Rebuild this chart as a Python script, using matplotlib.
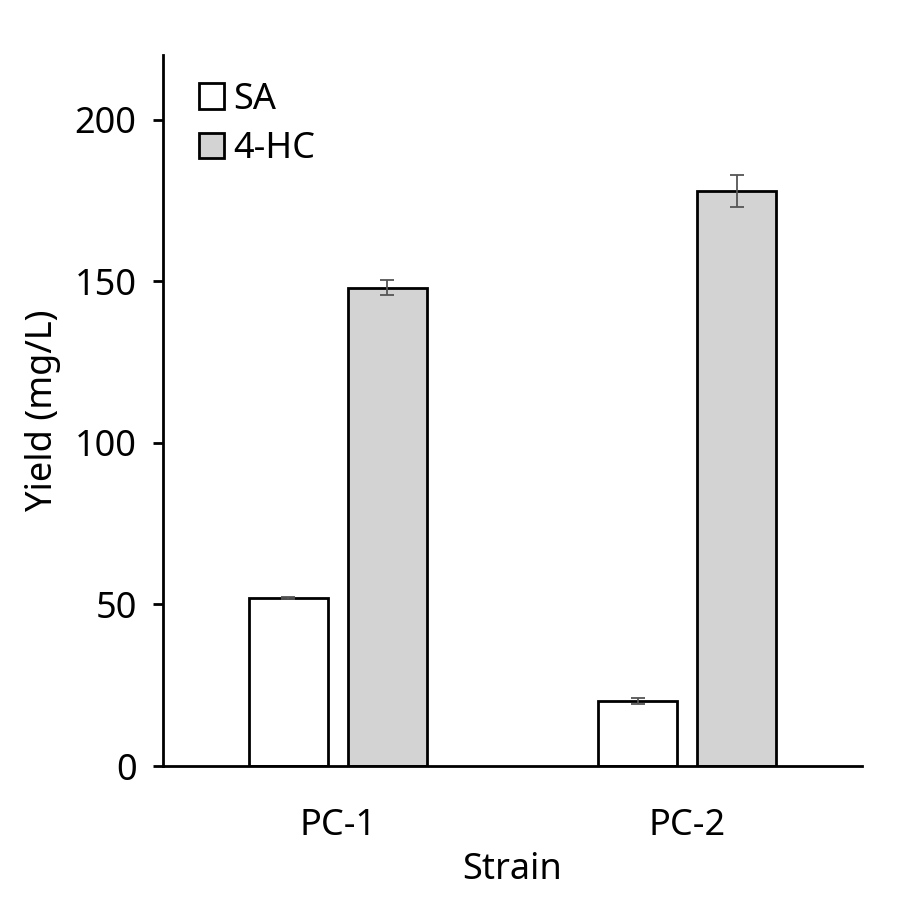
import matplotlib
matplotlib.use("Agg")
import matplotlib.pyplot as plt
import numpy as np

plt.rcParams['font.family'] = ['Noto Sans', 'DejaVu Sans']

strains = ['PC-1', 'PC-2']
sa_vals = [52, 20]
sa_err = [0.3, 0.9]
hc_vals = [148, 178]
hc_err = [2.3, 5.0]

fig = plt.figure(figsize=(9.2, 8.99), dpi=100)
ax = fig.add_axes([163/920, 1 - 766/899, (862-163)/920, (766-55)/899])

x = np.arange(len(strains))
w = 0.226
off = 0.1416
ax.bar(x - off, sa_vals, w, yerr=sa_err, color='white', edgecolor='black', linewidth=2,
       error_kw=dict(ecolor='#555555', elinewidth=1.3, capsize=5, capthick=1.3), label='SA')
ax.bar(x + off, hc_vals, w, yerr=hc_err, color='#d3d3d3', edgecolor='black', linewidth=2,
       error_kw=dict(ecolor='#555555', elinewidth=1.3, capsize=5, capthick=1.3), label='4-HC')

fs = 26
ax.set_xlim(-0.5, 1.5)
ax.set_ylim(0, 220)
ax.set_yticks([0, 50, 100, 150, 200])
ax.set_xticks(x)
ax.set_xticklabels(strains)
ax.tick_params(axis='x', length=0, pad=30, labelsize=fs)
ax.tick_params(axis='y', length=7, width=2, pad=12, labelsize=fs)
for s in ['top', 'right']:
    ax.spines[s].set_visible(False)
for s in ['left', 'bottom']:
    ax.spines[s].set_linewidth(2)

ax.set_xlabel('Strain', fontsize=fs, labelpad=6)
ax.set_ylabel('Yield (mg/L)', fontsize=fs, labelpad=10)

ax.legend(loc='upper left', frameon=False, fontsize=fs, handlelength=0.7, handleheight=0.7,
          handletextpad=0.25, labelspacing=0.38, borderaxespad=0.2, bbox_to_anchor=(0.02, 0.993))

fig.savefig('out.png', dpi=100)
